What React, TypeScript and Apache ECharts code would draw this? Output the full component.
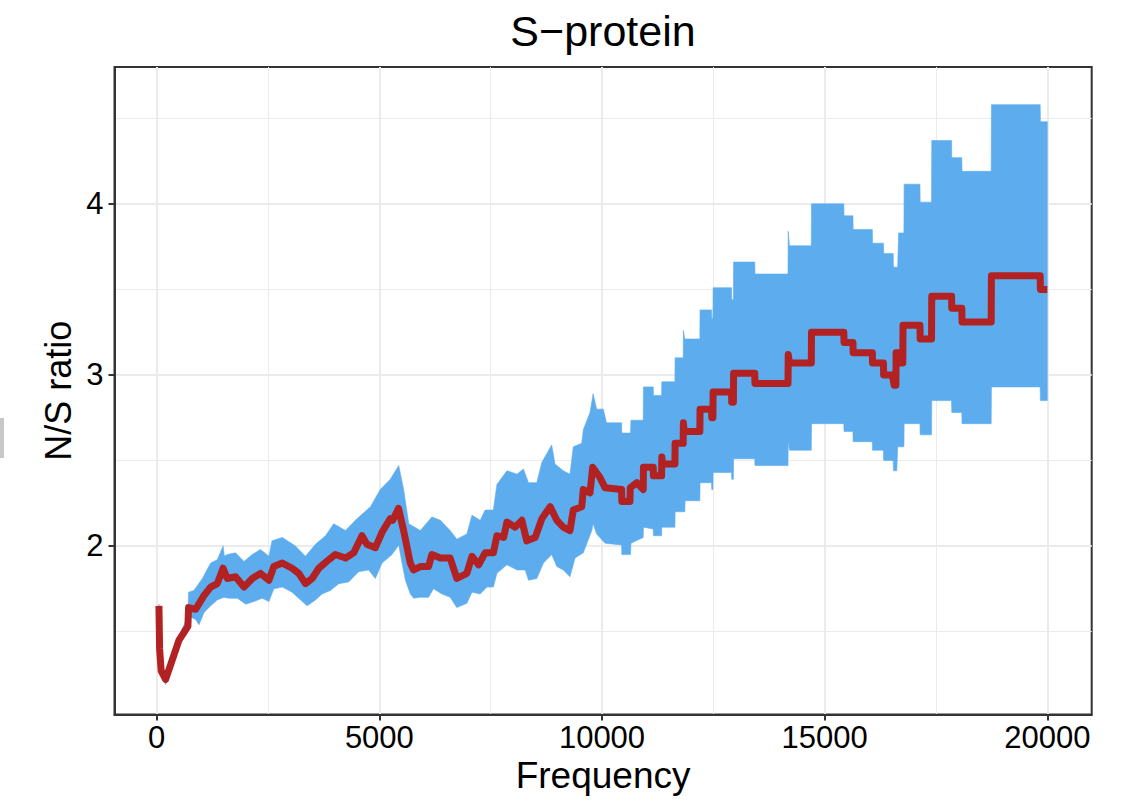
import React, { useEffect, useRef } from "react";
import * as echarts from "echarts";

// ---- data ----
const meanFreq = [
  50, 65, 100, 200, 350, 500, 650, 700, 715, 875, 1060, 1210, 1360, 1490, 1585, 1770, 1960, 2145, 2330, 2520,
  2630, 2820, 3040, 3190, 3340, 3490, 3640, 3865, 4010, 4240, 4425, 4610, 4720, 4910, 5060, 5245, 5300, 5430,
  5545, 5695, 5770, 5920, 6105, 6180, 6370, 6590, 6740, 6965, 7080, 7230, 7375, 7560, 7640, 7790, 7865, 8050,
  8200, 8310, 8500, 8650, 8835, 8985, 9130, 9280, 9355, 9545, 9580, 9730, 9790, 9955, 10070, 10440, 10445,
  10628, 10633, 10780, 10926, 10931, 11150, 11155, 11338, 11343, 11360, 11637, 11642, 11823, 11828, 11845,
  12197, 12202, 12460, 12465, 12490, 12495, 12908, 12913, 12950, 12955, 13430, 13435, 14177, 14182, 14210,
  14700, 14705, 15430, 15435, 15635, 15640, 16070, 16075, 16320, 16325, 16520, 16560, 16600, 16605, 16700,
  16705, 16755, 16760, 17140, 17145, 17400, 17405, 17850, 17855, 18080, 18085, 18740, 18745, 19840, 19845, 20000,
];
const meanRatio = [
  1.65, 1.4, 1.27, 1.22, 1.335, 1.45, 1.51, 1.53, 1.64, 1.63, 1.71, 1.76, 1.78, 1.87, 1.81, 1.82, 1.76, 1.81, 1.84, 1.8,
  1.88, 1.9, 1.87, 1.84, 1.78, 1.81, 1.87, 1.92, 1.95, 1.93, 1.96, 2.06, 2.01, 1.99, 2.08, 2.16, 2.15, 2.22,
  2.09, 1.9, 1.86, 1.88, 1.88, 1.95, 1.93, 1.93, 1.81, 1.84, 1.94, 1.89, 1.96, 1.96, 2.06, 2.05, 2.14, 2.11,
  2.15, 2.03, 2.05, 2.16, 2.23, 2.15, 2.11, 2.09, 2.21, 2.23, 2.33, 2.31, 2.46, 2.4, 2.34, 2.33, 2.26,
  2.26, 2.34, 2.37, 2.33, 2.46, 2.46, 2.41, 2.41, 2.52, 2.48, 2.48, 2.6, 2.6, 2.72, 2.67,
  2.67, 2.8, 2.8, 2.75, 2.75, 2.9, 2.9, 2.84, 2.84, 3.01, 3.01, 2.95, 2.95, 3.12, 3.07,
  3.07, 3.25, 3.25, 3.19, 3.19, 3.13, 3.13, 3.07, 3.07, 3.0, 3.0, 2.94, 2.94, 3.13, 3.13,
  3.07, 3.07, 3.29, 3.29, 3.21, 3.21, 3.46, 3.46, 3.39, 3.39, 3.31, 3.31, 3.58, 3.58, 3.5, 3.5,
];

const upperFreq = [
  50, 100, 200, 425, 575, 700, 715, 835, 1025, 1210, 1360, 1490, 1520, 1585, 1770, 1960, 2145, 2330, 2520, 2590,
  2820, 3115, 3340, 3565, 3790, 3975, 4240, 4460, 4800, 5020, 5245, 5435, 5545, 5660, 5920, 6180, 6370, 6590,
  6740, 6965, 7080, 7265, 7375, 7560, 7640, 7865, 8090, 8235, 8350, 8535, 8650, 8870, 8945, 9130, 9280, 9355,
  9545, 9580, 9730, 9800, 9880, 10030, 10100, 10440, 10445, 10640, 10650, 10926, 10931, 11150, 11155, 11338,
  11343, 11637, 11642, 11823, 11828, 11860, 12197, 12202, 12460, 12465, 12490, 12495, 12908, 12913, 12950,
  12955, 13430, 13435, 14177, 14182, 14210, 14700, 14705, 15430, 15435, 15635, 15640, 16070, 16075, 16320,
  16325, 16540, 16545, 16640, 16660, 16780, 16785, 17140, 17145, 17400, 17405, 17850, 17855, 18080, 18085,
  18740, 18745, 19840, 19845, 20000,
];
const upperRatio = [
  1.66, 1.31, 1.26, 1.41, 1.52, 1.58, 1.73, 1.74, 1.81, 1.9, 1.92, 2.0, 1.94, 1.95, 1.96, 1.91, 1.95, 1.98, 1.94, 2.03,
  2.05, 2.0, 1.94, 2.01, 2.06, 2.13, 2.09, 2.15, 2.23, 2.33, 2.39, 2.47, 2.33, 2.13, 2.09, 2.17, 2.15, 2.09,
  2.04, 2.07, 2.18, 2.15, 2.21, 2.21, 2.36, 2.44, 2.42, 2.45, 2.37, 2.37, 2.49, 2.59, 2.48, 2.44, 2.42, 2.58,
  2.6, 2.68, 2.78, 2.89, 2.8, 2.8, 2.72, 2.72, 2.66, 2.66, 2.735, 2.735, 2.93, 2.93, 2.88, 2.88,
  2.96, 2.96, 3.1, 3.1, 3.26, 3.21, 3.21, 3.38, 3.38, 3.33, 3.33, 3.51, 3.51, 3.44, 3.44,
  3.66, 3.66, 3.59, 3.59, 3.84, 3.755, 3.755, 4.0, 4.0, 3.93, 3.93, 3.85, 3.85, 3.77, 3.77,
  3.71, 3.71, 3.63, 3.63, 3.83, 3.83, 4.115, 4.115, 4.01, 4.01, 4.37, 4.37, 4.27, 4.27, 4.19,
  4.19, 4.58, 4.58, 4.48, 4.48,
];

const lowerFreq = [
  50, 100, 200, 425, 575, 700, 725, 875, 950, 1060, 1210, 1360, 1510, 1620, 1810, 2000, 2180, 2370, 2520, 2630,
  2820, 3040, 3230, 3380, 3565, 3715, 3900, 4090, 4310, 4535, 4760, 4910, 5060, 5285, 5435, 5510, 5585, 5695,
  5770, 5920, 6105, 6215, 6405, 6590, 6740, 6965, 7080, 7265, 7415, 7560, 7640, 7865, 8090, 8275, 8350, 8535,
  8685, 8870, 8985, 9130, 9280, 9395, 9580, 9770, 9800, 9880, 10070, 10440, 10445, 10640, 10650, 10926, 10931,
  11150, 11155, 11338, 11343, 11637, 11642, 11860, 11865, 12197, 12202, 12460, 12465, 12490, 12495, 12908,
  12913, 12950, 12955, 13430, 13435, 14177, 14182, 14210, 14700, 14705, 15430, 15435, 15635, 15640, 16070,
  16075, 16320, 16325, 16540, 16545, 16620, 16640, 16780, 16785, 17140, 17145, 17400, 17405, 17850, 17855,
  18080, 18085, 18740, 18745, 19840, 19845, 20000,
];
const lowerRatio = [
  1.64, 1.25, 1.19, 1.355, 1.45, 1.5, 1.59, 1.57, 1.54, 1.61, 1.65, 1.685, 1.7, 1.695, 1.695, 1.66, 1.675, 1.695, 1.675, 1.75,
  1.76, 1.73, 1.685, 1.65, 1.685, 1.72, 1.74, 1.78, 1.79, 1.85, 1.86, 1.81, 1.9, 1.95, 2.006, 1.9, 1.8, 1.72,
  1.695, 1.7, 1.7, 1.75, 1.72, 1.7, 1.64, 1.665, 1.73, 1.72, 1.76, 1.76, 1.84, 1.89, 1.86, 1.86, 1.8, 1.81,
  1.9, 1.95, 1.88, 1.86, 1.82, 1.93, 1.96, 2.09, 2.13, 2.07, 2.016, 2.006, 1.95, 1.95, 2.016, 2.05, 2.11,
  2.1, 2.06, 2.06, 2.11, 2.11, 2.2, 2.2, 2.265, 2.265, 2.37, 2.37, 2.33, 2.33, 2.43, 2.43,
  2.39, 2.39, 2.51, 2.51, 2.47, 2.47, 2.62, 2.56, 2.56, 2.715, 2.715, 2.67, 2.67, 2.61, 2.61,
  2.56, 2.56, 2.5, 2.5, 2.44, 2.44, 2.58, 2.58, 2.715, 2.715, 2.65, 2.65, 2.85, 2.85, 2.78,
  2.78, 2.715, 2.715, 2.93, 2.93, 2.85, 2.85,
];

const xTicks = [0, 5000, 10000, 15000, 20000];
const xMinorTicks = [2500, 7500, 12500, 17500];
const yTicks = [2, 3, 4];
const yMinorTicks = [1.5, 2.5, 3.5, 4.5];

const X_MIN = -948;
const X_MAX = 20997;
const Y_MIN = 1.015;
const Y_MAX = 4.8;

const BLUE = "#5CACEE";
const RED = "#B22222";
const GRID = "#EBEBEB";
const INK = "#333333";
const FONT = "'Liberation Sans', Arial, Helvetica, sans-serif";

export default function App() {
  const ref = useRef<HTMLDivElement>(null);

  useEffect(() => {
    if (!ref.current) return;
    const chart = echarts.init(ref.current, null, { renderer: "svg" });

    const minorAxisBase = {
      type: "value",
      axisLine: { show: false, onZero: false },
      axisLabel: { show: false },
      splitLine: { show: true, lineStyle: { color: GRID, width: 1 } },
    };

    const option: any = {
      animation: false,
      backgroundColor: "#ffffff",
      textStyle: { fontFamily: FONT },
      grid: {
        left: 114.5,
        right: 49.3,
        top: 67,
        bottom: 95.5,
        show: true,
        borderColor: INK,
        borderWidth: 2,
        backgroundColor: "transparent",
        containLabel: false,
        outerBoundsMode: "none",
      },
      xAxis: [
        {
          type: "value",
          position: "bottom",
          offset: 0,
          min: X_MIN,
          max: X_MAX,
          axisLine: { show: true, onZero: false, lineStyle: { color: INK, width: 2 } },
          axisTick: { show: true, inside: false, customValues: xTicks, length: 6, lineStyle: { color: INK, width: 2 } },
          axisLabel: {
            customValues: xTicks,
            fontSize: 31,
            color: "#000000",
            margin: 7,
            fontFamily: FONT,
            formatter: (v: number) => String(v),
          },
          splitLine: { show: true, lineStyle: { color: GRID, width: 2 } },
          name: "Frequency",
          nameLocation: "middle",
          nameGap: 42,
          nameMoveOverlap: false,
          nameTextStyle: { fontSize: 37, color: "#000000", fontFamily: FONT },
          z: 1,
        },
        {
          ...minorAxisBase,
          min: X_MIN,
          max: X_MAX,
          position: "top",
          axisTick: { show: false, customValues: xMinorTicks },
          axisLabel: { show: false, customValues: xMinorTicks },
          z: 0,
        },
      ],
      yAxis: [
        {
          type: "value",
          position: "left",
          offset: 0,
          min: Y_MIN,
          max: Y_MAX,
          axisLine: { show: true, onZero: false, lineStyle: { color: INK, width: 2 } },
          axisTick: { show: true, inside: false, customValues: yTicks, length: 6, lineStyle: { color: INK, width: 2 } },
          axisLabel: {
            customValues: yTicks,
            fontSize: 31,
            color: "#000000",
            margin: 11,
            fontFamily: FONT,
            formatter: (v: number) => String(v),
          },
          splitLine: { show: true, lineStyle: { color: GRID, width: 2 } },
          name: "N/S ratio",
          nameLocation: "middle",
          nameRotate: 90,
          nameGap: 38,
          nameMoveOverlap: false,
          nameTextStyle: { fontSize: 36, color: "#000000", fontFamily: FONT },
          z: 1,
        },
        {
          ...minorAxisBase,
          min: Y_MIN,
          max: Y_MAX,
          position: "right",
          axisTick: { show: false, customValues: yMinorTicks },
          axisLabel: { show: false, customValues: yMinorTicks },
          z: 0,
        },
      ],
      graphic: [
        {
          type: "text",
          x: 603,
          y: 31,
          style: {
            text: "S\u2212protein",
            fontSize: 43,
            fontFamily: FONT,
            fill: "#000000",
            textAlign: "center",
            textVerticalAlign: "middle",
          },
        },
        {
          type: "rect",
          shape: { x: 0, y: 418, width: 4, height: 40 },
          style: { fill: "#C8C8C8" },
        },
      ],
      series: [
        {
          type: "custom",
          name: "ribbon",
          xAxisIndex: 0,
          yAxisIndex: 0,
          silent: true,
          z: 2,
          data: upperFreq.map((f, i) => [f, upperRatio[i]]),
          renderItem: (params: any, api: any) => {
            if (params.dataIndex !== 0) return null;
            const pts: number[][] = [];
            for (let i = 0; i < upperFreq.length; i++) pts.push(api.coord([upperFreq[i], upperRatio[i]]));
            for (let i = lowerFreq.length - 1; i >= 0; i--) pts.push(api.coord([lowerFreq[i], lowerRatio[i]]));
            return {
              type: "polygon",
              shape: { points: pts },
              style: { fill: BLUE, stroke: BLUE, lineWidth: 0.6 },
            };
          },
        },
        {
          type: "line",
          name: "mean",
          xAxisIndex: 0,
          yAxisIndex: 0,
          silent: true,
          z: 3,
          showSymbol: false,
          symbol: "none",
          data: meanFreq.map((f, i) => [f, meanRatio[i]]),
          lineStyle: { color: RED, width: 7, cap: "butt", join: "round" },
        },
      ],
    };

    chart.setOption(option);
    return () => chart.dispose();
  }, []);

  return (
    <div
      ref={ref}
      style={{ position: "fixed", left: 0, top: 0, width: 1141, height: 810, background: "#ffffff" }}
    />
  );
}
